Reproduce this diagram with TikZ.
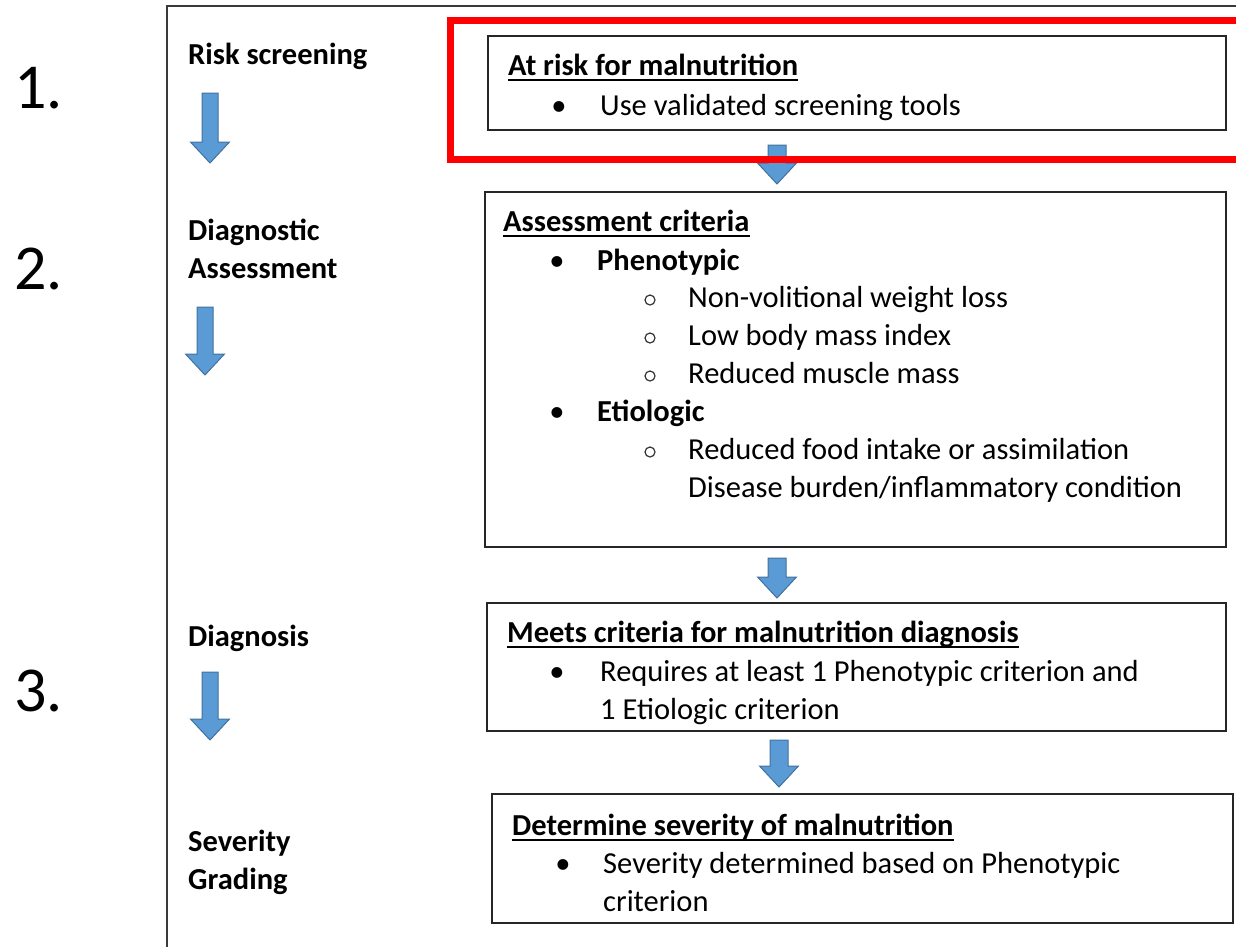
\documentclass[tikz,border=0pt]{standalone}
\usepackage{fontspec}
\setmainfont{Carlito}

\definecolor{arrowfill}{HTML}{5B9BD5}
\definecolor{arrowedge}{HTML}{41719C}
\definecolor{framegray}{HTML}{3A3A3A}
\definecolor{boxgray}{HTML}{262626}

\tikzset{
  stepbox/.style={draw=boxgray, line width=1.6pt, anchor=north west, inner sep=0pt},
  txt/.style={anchor=base west, inner sep=0pt, font=\fontsize{30.5}{37.5}\selectfont},
  boldtxt/.style={txt, font=\fontsize{30.5}{37.5}\selectfont\bfseries},
  bigno/.style={anchor=base west, inner sep=0pt, font=\fontsize{64}{76}\selectfont},
  dot/.style={anchor=base, inner sep=0pt, font=\fontsize{30.5}{37.5}\selectfont},
  ring/.style={circle, draw=black!80, line width=1.2pt, inner sep=0pt, minimum size=10pt},
  uline/.style={line width=1.6pt},
  blockarrow/.style={fill=arrowfill, draw=arrowedge, line width=1pt},
}

% block arrow pointing down: x, top y, tip y, half shaft width
\newcommand{\downblock}[4]{%
  \filldraw[blockarrow] ({#1-#4},#2) -- ({#1+#4},#2) -- ({#1+#4},{#3-21})
    -- ({#1+19.5},{#3-21}) -- (#1,#3) -- ({#1-19.5},{#3-21})
    -- ({#1-#4},{#3-21}) -- cycle;}

\begin{document}
\begin{tikzpicture}[x=1pt,y=-1pt]
\useasboundingbox (0,0) rectangle (1236,946);

% frame
\draw[framegray, line width=2pt] (167,960) -- (167,6) -- (1250,6);

% step numbers
\node[bigno] (n1) at (14,108) {1.};
\node[bigno] (n2) at (14,289) {2.};
\node[bigno] (n3) at (14,711) {3.};

% stages on the left
\node[boldtxt] (riskscr) at (188,64) {Risk screening};
\downblock{210}{93}{163}{8}
\node[boldtxt] (diag1) at (188,240) {Diagnostic};
\node[boldtxt] (diag2) at (188,278) {Assessment};
\downblock{205}{307}{375}{8}
\node[boldtxt] (diagn) at (188,646) {Diagnosis};
\downblock{210}{672}{740}{8}
\node[boldtxt] (sev1) at (188,851) {Severity};
\node[boldtxt] (sev2) at (188,889) {Grading};

% box 1
\node[stepbox, minimum width=738, minimum height=94] (screen) at (487,35) {};
\node[boldtxt] (t1) at (508,75) {At risk for malnutrition};
\draw[uline] ([yshift=-5pt]t1.base west) -- ([yshift=-5pt]t1.base east);
\node[dot] (b11) at (559,115) {•};
\node[txt] (l11) at (600,115) {Use validated screening tools};

\downblock{777}{145}{184}{9}

% box 2
\node[stepbox, minimum width=741, minimum height=355] (assess) at (484,191) {};
\node[boldtxt] (t2) at (503,231) {Assessment criteria};
\draw[uline] ([yshift=-5pt]t2.base west) -- ([yshift=-5pt]t2.base east);
\node[dot] (b21) at (557,270) {•};
\node[boldtxt] (l21) at (597,270) {Phenotypic};
\node[ring] (r21) at (650,300) {};
\node[txt] (l22) at (688,307) {Non-volitional weight loss};
\node[ring] (r22) at (650,338) {};
\node[txt] (l23) at (688,345) {Low body mass index};
\node[ring] (r23) at (650,376) {};
\node[txt] (l24) at (688,383) {Reduced muscle mass};
\node[dot] (b22) at (557,421) {•};
\node[boldtxt] (l25) at (597,421) {Etiologic};
\node[ring] (r24) at (650,452) {};
\node[txt] (l26) at (688,459) {Reduced food intake or assimilation};
\node[txt] (l27) at (688,497) {Disease burden/inflammatory condition};

\downblock{777}{558}{598}{9}

% box 3
\node[stepbox, minimum width=739, minimum height=128] (meets) at (486,602) {};
\node[boldtxt] (t3) at (507,642) {Meets criteria for malnutrition diagnosis};
\draw[uline] ([yshift=-5pt]t3.base west) -- ([yshift=-5pt]t3.base east);
\node[dot] (b31) at (557,681) {•};
\node[txt] (l31) at (600,681) {Requires at least 1 Phenotypic criterion and};
\node[txt] (l32) at (600,719) {1 Etiologic criterion};

\downblock{779}{740}{787}{9}

% box 4
\node[stepbox, minimum width=741, minimum height=129] (severity) at (491,793) {};
\node[boldtxt] (t4) at (512,835) {Determine severity of malnutrition};
\draw[uline] ([yshift=-5pt]t4.base west) -- ([yshift=-5pt]t4.base east);
\node[dot] (b41) at (563,873) {•};
\node[txt] (l41) at (603,873) {Severity determined based on Phenotypic};
\node[txt] (l42) at (603,911) {criterion};

% highlight
\draw[red, line width=7pt] (450.5,20.5) rectangle (1250,159.5);
\end{tikzpicture}
\end{document}
